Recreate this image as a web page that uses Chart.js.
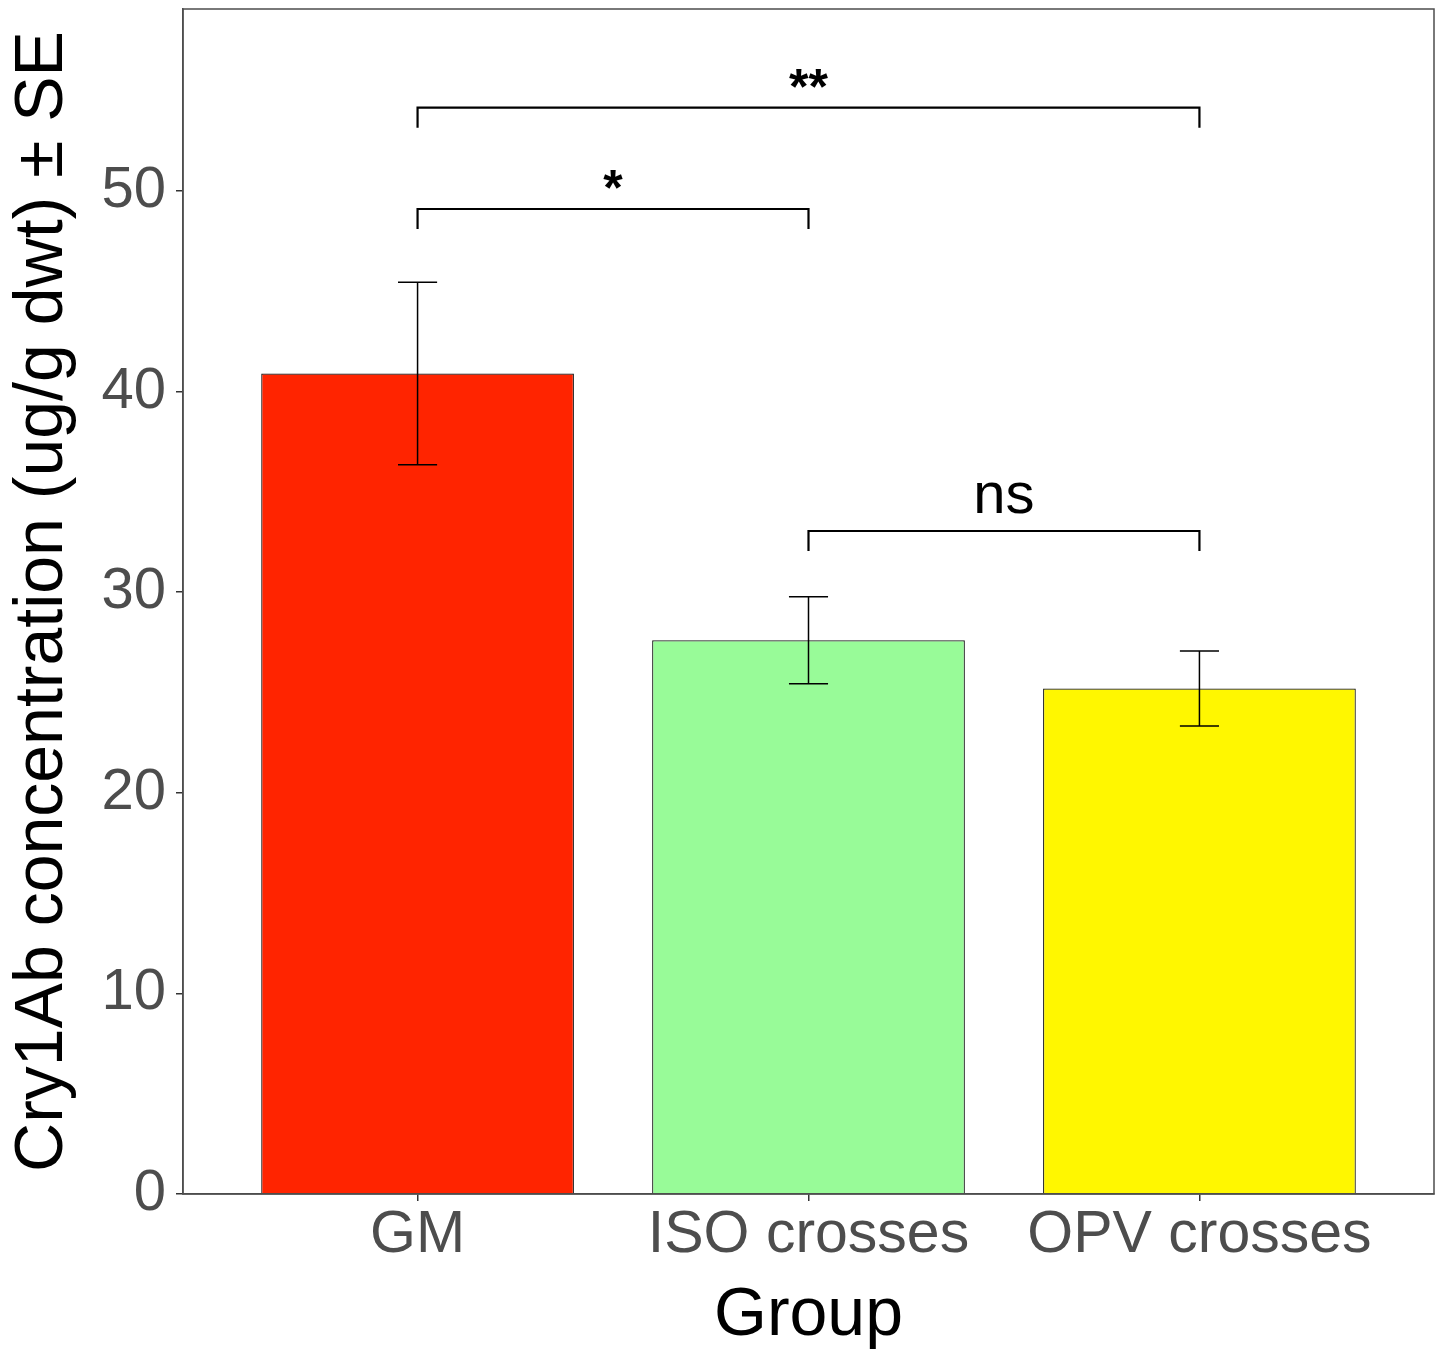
<!DOCTYPE html>
<html>
<head>
<meta charset="utf-8">
<script src="https://cdn.jsdelivr.net/npm/chart.js@4.4.1/dist/chart.umd.min.js"></script>
<style>
  html, body { margin: 0; padding: 0; background: #fff; }
</style>
</head>
<body>
<canvas id="chart" width="1441" height="1352"></canvas>
<script>
const groups = ['GM', 'ISO crosses', 'OPV crosses'];
const meanValues = [40.9, 27.6, 25.2];
const seValues = [4.55, 2.17, 1.87];
const barColors = ['#ff2400', '#98fb98', '#fff700'];
const yTicks = [0, 10, 20, 30, 40, 50];

// significance brackets (group index from / to, height, label)
const bracketFrom = [0, 0, 1];
const bracketTo = [2, 1, 2];
const bracketY = [54.15, 49.1, 33.05];
const bracketLabels = ['**', '*', 'ns'];

const family = "'Liberation Sans', Arial, Helvetica, sans-serif";

const annotations = {
    id: 'annotations',
    afterDatasetsDraw(chart) {
        const { ctx, chartArea, scales: { x, y } } = chart;
        ctx.save();

        // error bars (width 0.1 of a category)
        ctx.strokeStyle = '#000';
        ctx.lineWidth = 1.5;
        meanValues.forEach((m, i) => {
            const px = x.getPixelForValue(i + 1);
            const half = x.getPixelForValue(i + 1.05) - px;
            const top = y.getPixelForValue(m + seValues[i]);
            const bot = y.getPixelForValue(m - seValues[i]);
            ctx.beginPath();
            ctx.moveTo(px, top); ctx.lineTo(px, bot);
            ctx.moveTo(px - half, top); ctx.lineTo(px + half, top);
            ctx.moveTo(px - half, bot); ctx.lineTo(px + half, bot);
            ctx.stroke();
        });

        // significance brackets
        ctx.lineWidth = 2.2;
        ctx.textAlign = 'center';
        ctx.fillStyle = '#000';
        bracketLabels.forEach((label, i) => {
            const x1 = x.getPixelForValue(bracketFrom[i] + 1);
            const x2 = x.getPixelForValue(bracketTo[i] + 1);
            const yl = y.getPixelForValue(bracketY[i]);
            const yt = y.getPixelForValue(bracketY[i] - 1);
            ctx.beginPath();
            ctx.moveTo(x1, yt); ctx.lineTo(x1, yl); ctx.lineTo(x2, yl); ctx.lineTo(x2, yt);
            ctx.stroke();

            const stars = label.indexOf('*') >= 0;
            ctx.font = (stars ? 'bold 50px ' : '58px ') + family;
            ctx.textBaseline = 'alphabetic';
            ctx.fillText(label, (x1 + x2) / 2, stars ? yl - 4 : yl - 18);
        });

        // panel border
        ctx.strokeStyle = '#4d4d4d';
        ctx.lineWidth = 1.5;
        ctx.strokeRect(chartArea.left, chartArea.top, chartArea.right - chartArea.left, chartArea.bottom - chartArea.top);
        ctx.restore();
    }
};

const config = {
    type: 'bar',
    data: {
        datasets: [{
            data: groups.map((g, i) => ({ x: i + 1, y: meanValues[i] })),
            backgroundColor: barColors,
            borderColor: '#1a1a1a',
            borderWidth: 1.2,
            barPercentage: 0.8,
            categoryPercentage: 1.0
        }]
    },
    options: {
        responsive: false,
        animation: false,
        layout: { padding: { left: 0, top: 9, right: 7, bottom: 0 } },
        plugins: {
            legend: { display: false },
            tooltip: { enabled: false }
        },
        scales: {
            x: {
                type: 'linear',
                offset: false,
                min: 0.4,
                max: 3.6,
                afterBuildTicks: s => { s.ticks = groups.map((g, i) => ({ value: i + 1 })); },
                afterFit: s => { s.height = 158; s.paddingLeft = 0; s.paddingRight = 0; },
                grid: { offset: false, drawOnChartArea: false, drawTicks: true, tickLength: 7, color: '#333', lineWidth: 1.5 },
                border: { display: true, color: '#4d4d4d', width: 1.5 },
                ticks: {
                    callback: v => groups[v - 1],
                    color: '#4d4d4d',
                    font: { size: 59, family: family },
                    padding: -1,
                    maxRotation: 0,
                    autoSkip: false
                },
                title: {
                    display: true,
                    text: 'Group',
                    color: '#000',
                    font: { size: 68, family: family },
                    padding: { top: 0, bottom: -5 }
                }
            },
            y: {
                min: 0,
                max: 59.07,
                afterBuildTicks: s => { s.ticks = yTicks.map(v => ({ value: v })); },
                afterFit: s => { s.width = 183; s.paddingTop = 0; s.paddingBottom = 0; },
                grid: { drawOnChartArea: false, drawTicks: true, tickLength: 7, color: '#333', lineWidth: 1.5 },
                border: { display: true, color: '#4d4d4d', width: 1.5 },
                ticks: {
                    color: '#4d4d4d',
                    font: { size: 58, family: family },
                    padding: 10
                },
                title: {
                    display: true,
                    text: 'Cry1Ab concentration (ug/g dwt) ± SE',
                    color: '#000',
                    font: { size: 68, family: family },
                    padding: { top: 2, bottom: 0 }
                }
            }
        }
    },
    plugins: [annotations]
};

const ctx = document.getElementById('chart').getContext('2d');
const chart = new Chart(ctx, config);
</script>
</body>
</html>
